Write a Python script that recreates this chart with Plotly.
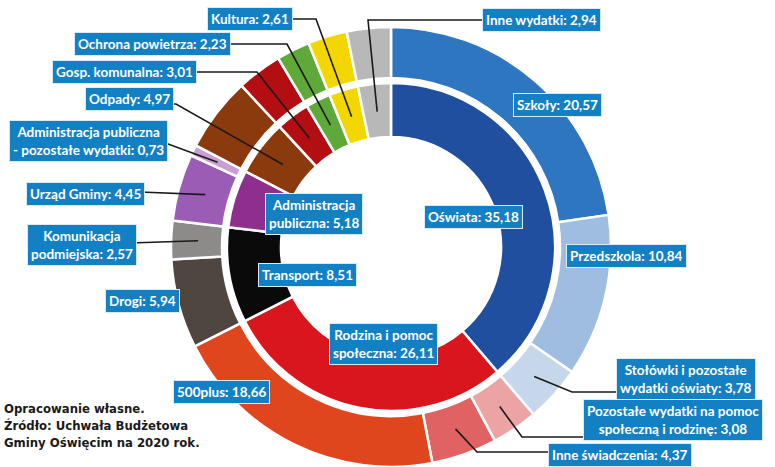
import math
import plotly.graph_objects as go

W, H = 775, 467

# ---------------- data ----------------
inner_labels = ["Oświata", "Rodzina i pomoc społeczna", "Transport", "Administracja publiczna",
                "Odpady", "Gosp. komunalna", "Ochrona powietrza", "Kultura", "Inne wydatki"]
inner_values = [35.18, 26.11, 8.51, 5.18, 4.97, 3.01, 2.23, 2.61, 2.94]
inner_colors = ["#1f4f9e", "#d9161e", "#0a0a0a", "#8e2f8e", "#8b3a0e",
                "#b30f12", "#5fa83a", "#f3d600", "#b8b8b8"]

outer_labels = ["Szkoły", "Przedszkola", "Stołówki i pozostałe wydatki oświaty",
                "Pozostałe wydatki na pomoc społeczną i rodzinę", "Inne świadczenia", "500plus",
                "Drogi", "Komunikacja podmiejska", "Urząd Gminy",
                "Administracja publiczna - pozostałe wydatki", "Odpady", "Gosp. komunalna",
                "Ochrona powietrza", "Kultura", "Inne wydatki"]
outer_values = [20.57, 10.84, 3.78, 3.08, 4.37, 18.66, 5.94, 2.57, 4.45, 0.73,
                4.97, 3.01, 2.23, 2.61, 2.94]
outer_colors = ["#2e76c0", "#9fbde0", "#c6d7eb", "#eca3a3", "#e06262", "#e0461e",
                "#4f4640", "#8d8b89", "#9a5cb4", "#c9a0d6", "#8b3a0e", "#b30f12",
                "#5fa83a", "#f3d600", "#b8b8b8"]

# label texts as shown (line breaks)
inner_disp = ["Oświata", "Rodzina i pomoc<br>społeczna", "Transport", "Administracja<br>publiczna",
              "Odpady", "Gosp. komunalna", "Ochrona powietrza", "Kultura", "Inne wydatki"]
outer_disp = ["Szkoły", "Przedszkola", "Stołówki i pozostałe<br>wydatki oświaty",
              "Pozostałe wydatki na pomoc<br>społeczną i rodzinę", "Inne świadczenia", "500plus",
              "Drogi", "Komunikacja<br>podmiejska", "Urząd Gminy",
              "Administracja publiczna<br>- pozostałe wydatki", "Odpady", "Gosp. komunalna",
              "Ochrona powietrza", "Kultura", "Inne wydatki"]

source_lines = ["Opracowanie własne.", "Źródło: Uchwała Budżetowa", "Gminy Oświęcim na 2020 rok."]

# ---------------- layout geometry (pixels) ----------------
CX, CY = 391, 247
R_OUT, R_OUT_IN = 220, 169
R_IN, R_IN_IN = 164, 110

# label box centre, leader elbow points (or None)
inner_lab = [
    ((473, 217), None),
    ((383, 344), None),
    ((307, 275), None),
    ((314, 214), None),
    ((129, 99), [(176, 104)]),
    ((124, 72), [(170, 72), (257, 72)]),
    ((152, 44), [(220, 44), (287, 44)]),
    ((250, 19), [(295, 19), (316, 19)]),
    ((541, 20), [(495, 20), (368, 20)]),
]
outer_lab = [
    ((557, 105), None),
    ((626, 256), None),
    ((686, 379), [(640, 392), (572, 392)]),
    ((673, 420), [(600, 437), (522, 437)]),
    ((620, 455), [(560, 452), (477, 452)]),
    ((221, 392), None),
    ((142, 301), None),
    ((82, 245), [(130, 243)]),
    ((85, 194), [(140, 192)]),
    ((88, 141), [(160, 141)]),
    None, None, None, None, None,
]
R_LEAD_IN, R_LEAD_OUT = 136, 193


def px(x):
    return x / W


def py(y):
    return 1 - y / H


def fmt(v):
    return f"{v:.2f}".replace(".", ",")


fig = go.Figure()

fig.add_trace(go.Pie(
    labels=outer_labels, values=outer_values, sort=False, direction="clockwise",
    rotation=0, hole=R_OUT_IN / R_OUT, textinfo="none",
    marker=dict(colors=outer_colors, line=dict(color="white", width=2.5)),
    domain=dict(x=[px(CX - R_OUT), px(CX + R_OUT)], y=[py(CY + R_OUT), py(CY - R_OUT)]),
    hoverinfo="label+value", showlegend=False,
))
fig.add_trace(go.Pie(
    labels=inner_labels, values=inner_values, sort=False, direction="clockwise",
    rotation=0, hole=R_IN_IN / R_IN, textinfo="none",
    marker=dict(colors=inner_colors, line=dict(color="white", width=2.5)),
    domain=dict(x=[px(CX - R_IN), px(CX + R_IN)], y=[py(CY + R_IN), py(CY - R_IN)]),
    hoverinfo="label+value", showlegend=False,
))

shapes = []
annotations = []


def add_labels(values, disp, specs, r_lead):
    total = sum(values)
    cum = 0
    for v, d, spec in zip(values, disp, specs):
        mid = (cum + v / 2) / total * 2 * math.pi
        cum += v
        if spec is None:
            continue
        (bx, by), elbow = spec
        if elbow:
            tx = CX + r_lead * math.sin(mid)
            ty = CY - r_lead * math.cos(mid)
            pts = [(bx, by if len(elbow) > 1 else elbow[0][1])] + elbow + [(tx, ty)]
            path = "M " + " L ".join(f"{px(x):.5f},{py(y):.5f}" for x, y in pts)
            shapes.append(dict(type="path", path=path, xref="paper", yref="paper",
                               line=dict(color="#1a1a1a", width=1.6)))
        annotations.append(dict(
            x=px(bx), y=py(by), xref="paper", yref="paper", showarrow=False,
            xanchor="center", yanchor="middle", align="center",
            text=f"<b>{d}: {fmt(v)}</b>",
            font=dict(family="Lato, 'Open Sans', sans-serif", size=13.5, color="white"),
            bgcolor="#1380c3", bordercolor="#d8ebf7", borderwidth=1, borderpad=3,
        ))


add_labels(inner_values, inner_disp, inner_lab, R_LEAD_IN)
add_labels(outer_values, outer_disp, outer_lab, R_LEAD_OUT)

# source note
for line, ry in zip(source_lines, [408, 425, 442]):
    annotations.append(dict(
        x=px(2), y=py(ry), xref="paper", yref="paper", showarrow=False,
        xanchor="left", yanchor="middle", align="left",
        text=f"<b>{line}</b>",
        font=dict(family="'Liberation Sans Narrow', 'DejaVu Sans Condensed', sans-serif",
                  size=13, color="#1a1a1a"),
    ))

fig.update_layout(
    width=W, height=H, margin=dict(l=0, r=0, t=0, b=0),
    paper_bgcolor="white", plot_bgcolor="white",
    shapes=shapes, annotations=annotations, showlegend=False,
)

fig.write_html("out.html", config={"displayModeBar": False},
               post_script="document.body.style.margin='0px';")
